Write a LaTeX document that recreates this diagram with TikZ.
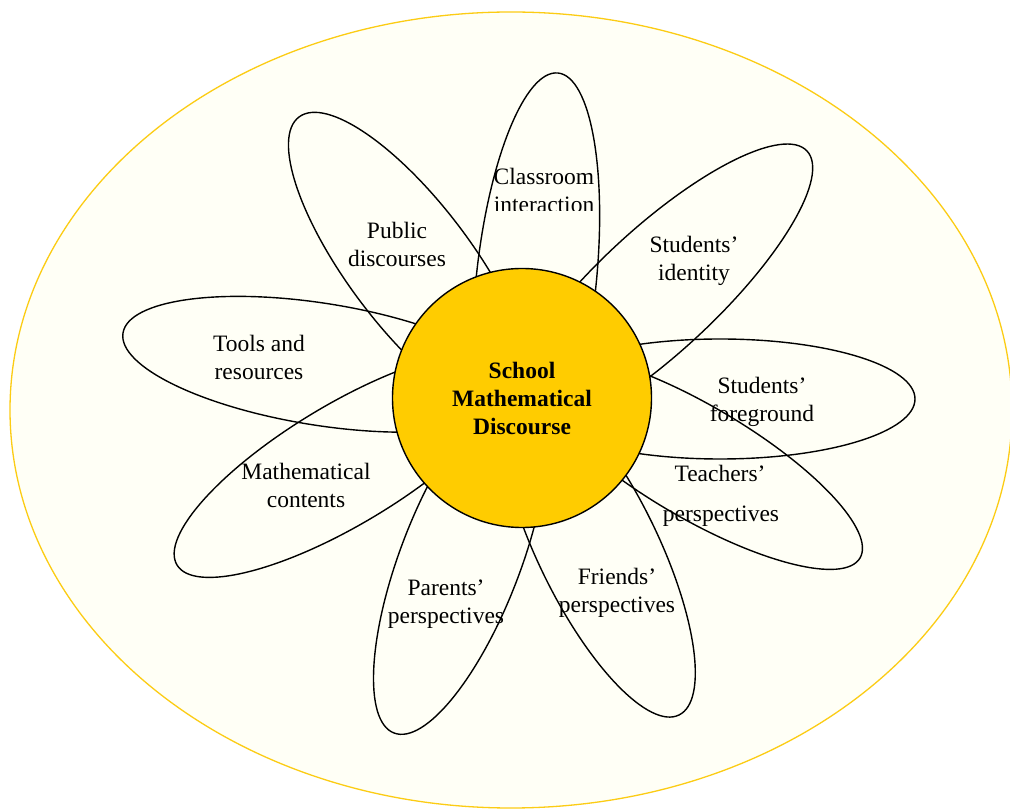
\documentclass[tikz,border=0pt]{standalone}
\usepackage{fontspec}
\setmainfont{Liberation Serif}
\usetikzlibrary{shapes.geometric}
\definecolor{sun}{RGB}{255,204,0}
\definecolor{cream}{RGB}{255,255,246}
\definecolor{rim}{RGB}{252,204,20}
\newcommand{\petalnode}[6]{%
  \path (#2,{809-#3}) ++({#4+180}:{#5}) coordinate (#1c);
  \node[petal, minimum width={2*#5}, minimum height={2*#6}, rotate=#4] (#1) at (#1c) {};
}
\begin{document}
\begin{tikzpicture}[x=1pt,y=1pt,
  petal/.style={draw=black, line width=1.4pt, ellipse, inner sep=0pt},
  lab/.style={font=\fontsize{23.5}{28}\selectfont, align=center, inner sep=0pt},
  hubstyle/.style={circle, draw=black, line width=1.4pt, fill=sun, inner sep=0pt,
    minimum size=259pt, align=center, font=\fontsize{23.5}{28}\selectfont\bfseries},
  field/.style={ellipse, draw=rim, line width=1.3pt, fill=cream, inner sep=0pt}]
\useasboundingbox (0,0) rectangle (1010,809);
\fill[white] (0,0) rectangle (1010,809);
\node[field, minimum width=1002pt, minimum height=796pt] (fieldnode) at (511,{809-410}) {};
% petals
\petalnode{p1}{558}{73}{84}{210}{60}
\petalnode{p2}{299}{117}{127}{185}{62}
\petalnode{p3}{807}{151}{43}{205}{61}
\petalnode{p4}{915}{399}{0}{195}{60}
\petalnode{p5}{860}{558}{-30.5}{190}{56}
\petalnode{p6}{679}{715}{-64}{185}{60}
\petalnode{p7}{394}{733}{249}{185}{60}
\petalnode{p8}{177}{565}{211}{195}{60}
\petalnode{p9}{123}{333}{171}{200}{61}
% labels
\begin{scope}
\clip (470,{809-211}) rectangle (620,{809-150});
\node[lab] (t1) at (544,{809-190}) {Classroom\\interaction};
\end{scope}
\node[lab] (t2) at (397,{809-244}) {Public\\discourses};
\node[lab] (t3) at (694,{809-261}) {Students’\\identity};
\node[lab] (t4) at (762,{809-402}) {Students’\\foreground};
\node[lab] (t5a) at (720,{809-473}) {Teachers’};
\node[lab] (t5b) at (721,{809-516}) {perspectives};
\node[lab] (t6) at (617,{809-593}) {Friends’\\perspectives};
\node[lab] (t7) at (446,{809-604}) {Parents’\\perspectives};
\node[lab] (t8) at (306,{809-485}) {Mathematical\\contents};
\node[lab] (t9) at (259,{809-357}) {Tools and\\resources};
% hub
\node[hubstyle] (hub) at (522,{809-398}) {School\\Mathematical\\Discourse};
\end{tikzpicture}
\end{document}
